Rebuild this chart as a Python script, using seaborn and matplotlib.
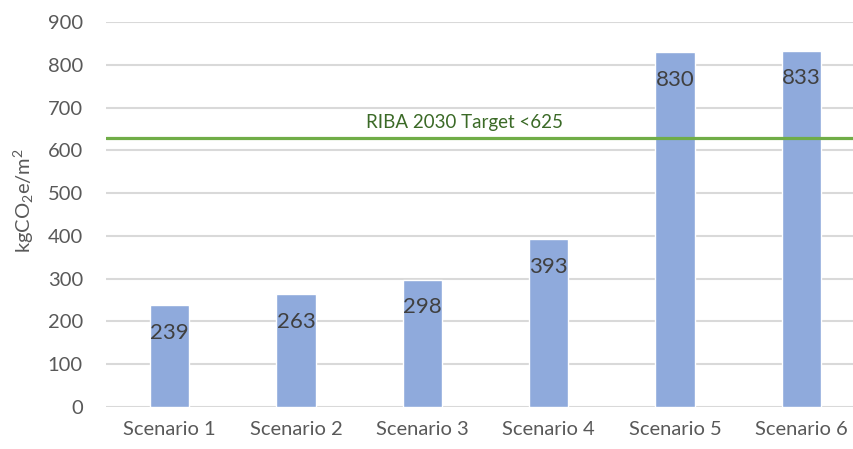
import pandas as pd
import numpy as np
import matplotlib.pyplot as plt
import seaborn as sns

# data
scenarios = ['Scenario 1', 'Scenario 2', 'Scenario 3', 'Scenario 4', 'Scenario 5', 'Scenario 6']
values = [239, 263, 298, 393, 830, 833]
target_value = 630
target_label = 'RIBA 2030 Target <625'

data = pd.DataFrame({'scenario': scenarios, 'value': values})

sns.set_style('white')
plt.rcParams['font.family'] = ['Lato', 'DejaVu Sans']
plt.rcParams['mathtext.default'] = 'regular'

fig = plt.figure(figsize=(8.54, 4.49), dpi=100)
ax = fig.add_axes([106.5 / 854, 1 - 407 / 449, 758 / 854, 385 / 449])

sns.barplot(data=data, x='scenario', y='value', color='#8FAADC', saturation=1,
            width=0.31, ax=ax, zorder=3)

# bar labels inside the top of each bar
for i, v in enumerate(values):
    ax.annotate(str(v), (i, v), xytext=(0, -20), textcoords='offset points',
                ha='center', va='center', fontsize=16, color='#404040', zorder=4)

# target line
ax.axhline(target_value, color='#70AD47', linewidth=2.3, zorder=5)
ax.annotate(target_label, (0.472, target_value), xycoords=('axes fraction', 'data'),
            xytext=(0, 11), textcoords='offset points', ha='center', va='center',
            fontsize=13.5, color='#3B6A27')

ax.set_ylim(0, 900)
ax.set_yticks(range(0, 901, 100))
ax.yaxis.grid(True, color='#D9D9D9', linewidth=1.5, zorder=0)
ax.set_axisbelow(True)
for s in ax.spines.values():
    s.set_visible(False)
ax.tick_params(axis='both', length=0, labelsize=14.5, colors='#595959')
ax.tick_params(axis='y', pad=17)
ax.tick_params(axis='x', pad=10)
ax.set_xlabel('')
ax.set_ylabel('kgCO$_2$e/m$^2$', fontsize=14.5, color='#595959')
ax.yaxis.set_label_coords(-0.093, 0.535)

fig.savefig('out.png', dpi=100)
